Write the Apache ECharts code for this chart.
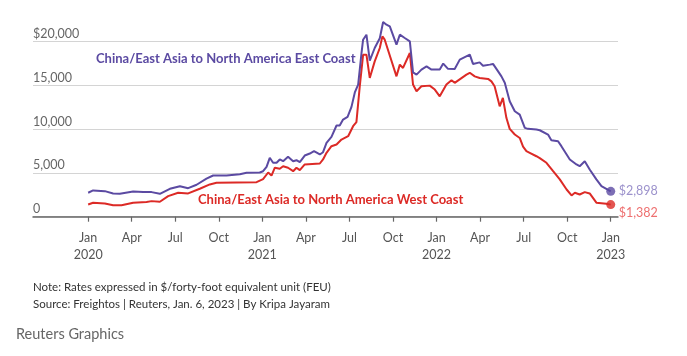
<!DOCTYPE html>
<html><head><meta charset="utf-8">
<script src="https://cdn.jsdelivr.net/npm/echarts@6/dist/echarts.min.js"></script>
<style>html,body{margin:0;padding:0;background:#fff}#c{width:687px;height:356px}</style>
</head><body><div id="c"></div>
<script>
// x positions are months since Jan 2020
const tickMonths = [0,3,6,9,12,15,18,21,24,27,30,33,36];
const tickLabels = ['Jan\n2020','Apr','Jul','Oct','Jan\n2021','Apr','Jul','Oct','Jan\n2022','Apr','Jul','Oct','Jan\n2023'];
const yTicks = [0,5000,10000,15000,20000];

const eastX = [0.00,0.34,1.15,1.72,2.18,3.10,3.79,4.37,4.94,5.63,6.32,6.89,7.47,8.15,8.61,9.53,10.45,10.91,11.82,12.05,12.29,12.51,12.74,12.98,13.20,13.43,13.77,14.12,14.35,14.58,14.92,15.27,15.56,15.96,16.18,16.42,16.76,17.11,17.33,17.56,17.87,18.14,18.37,18.60,18.83,18.94,19.17,19.40,19.74,20.09,20.32,20.55,20.78,21.24,21.47,21.81,22.16,22.38,22.62,22.96,23.31,23.65,24.22,24.46,24.79,25.25,25.60,26.29,26.51,26.97,27.20,27.67,27.89,28.24,28.47,28.70,29.04,29.39,29.73,30.08,30.30,30.88,31.11,31.68,31.91,32.37,32.60,33.18,33.64,33.86,34.21,34.55,35.01,35.36,36.00];
const eastValues = [2740,3000,2920,2660,2620,2890,2810,2810,2620,3190,3490,3260,3650,4340,4710,4710,4860,5020,5050,5200,5700,6730,6160,6160,6540,6340,6850,6340,6460,6230,6990,7220,7490,7110,7370,8440,9130,10420,10420,11100,11410,12550,14200,15100,18700,20230,20800,17850,19280,20400,22250,21940,21750,19660,20800,20420,20040,16500,16240,16810,17180,16810,16810,17500,16900,16890,17950,18520,17460,17640,17260,17380,17460,16610,16040,15300,13200,12050,11670,10150,10040,9960,9880,9390,8740,8630,8060,6540,5970,5770,6340,5400,4260,3490,2898];

const westX = [0.00,0.34,1.15,1.72,2.30,3.10,4.02,4.37,4.94,5.51,6.20,6.89,7.69,8.38,8.84,11.60,12.05,12.40,12.63,12.86,13.20,13.43,13.77,14.12,14.35,14.58,14.92,15.96,16.18,16.42,16.76,17.11,17.45,17.91,18.25,18.48,18.71,18.94,19.17,19.40,19.74,20.09,20.27,20.43,21.24,21.47,21.69,22.16,22.38,22.62,22.96,23.53,23.88,24.22,24.68,25.03,25.25,26.06,26.29,26.63,26.97,27.55,27.78,28.00,28.35,28.57,28.81,29.04,29.39,29.73,29.96,30.19,30.42,30.88,31.11,31.57,32.03,32.49,32.96,33.30,33.53,33.86,34.21,34.55,35.01,35.70,36.00];
const westValues = [1400,1600,1520,1320,1320,1600,1670,1780,1710,2350,2740,2660,3190,3690,3880,3950,4300,5050,4700,5600,5480,5770,5590,5200,5590,5320,5970,6080,6540,7300,8060,8250,8820,9200,10340,10800,14900,18500,18520,15860,17750,19280,20610,20230,16040,17380,17000,18710,15100,14330,14900,14980,14530,13760,15100,15600,15300,16240,16450,16040,15860,15750,15470,14900,12620,13580,11300,10040,9390,9000,8000,7490,7300,6910,6700,6160,5200,4260,3110,2430,2740,2540,2810,2660,1600,1480,1382];

const eastName = 'China/East Asia to North America East Coast';
const westName = 'China/East Asia to North America West Coast';
const noteText = 'Note: Rates expressed in $/forty-foot equivalent unit (FEU)';
const sourceText = 'Source: Freightos | Reuters, Jan. 6, 2023 | By Kripa Jayaram';
const creditText = 'Reuters Graphics';

const FONT = 'Lato, sans-serif';
const PURPLE = '#5b4aa2', RED = '#dc2a26';
const zip = (xs, ys) => xs.map((x, i) => [x, ys[i]]);
const fmt = v => v.toLocaleString('en-US');
const last = a => a[a.length - 1];

const chart = echarts.init(document.getElementById('c'), null, {renderer: 'canvas'});
chart.setOption({
  animation: false,
  backgroundColor: '#fff',
  grid: {left: 33, right: 69, top: 41.7, bottom: 139.3},
  xAxis: {
    type: 'value', min: -3.8, max: 36.5,
    axisLine: {show: true, lineStyle: {color: '#666', width: 1.5}},
    axisTick: {show: true, customValues: tickMonths, length: 5, lineStyle: {color: '#666', width: 1.2}},
    axisLabel: {customValues: tickMonths, formatter: v => tickLabels[tickMonths.indexOf(Math.round(v))],
      color: '#555', fontFamily: FONT, fontSize: 12.5, lineHeight: 17, margin: 13},
    splitLine: {show: false}
  },
  yAxis: {
    type: 'value', min: 0, max: 20000, interval: 5000,
    axisLine: {show: false}, axisTick: {show: false},
    axisLabel: {inside: true, margin: 0, align: 'left', verticalAlign: 'bottom', lineHeight: 15,
      color: '#666', fontFamily: FONT, fontSize: 12.5,
      formatter: v => v === 20000 ? '$' + fmt(v) : fmt(v)},
    splitLine: {lineStyle: {color: '#d4d4d4', width: 1.2}}
  },
  series: [
    {type: 'line', data: zip(westX, westValues), showSymbol: false, clip: false,
     lineStyle: {color: RED, width: 2}, itemStyle: {color: RED},
     endLabel: {show: true, formatter: p => '$' + fmt(p.value[1]), color: '#ee7070',
       fontFamily: FONT, fontSize: 12.5, distance: 8, offset: [0, 8]}},
    {type: 'line', data: zip(eastX, eastValues), showSymbol: false, clip: false,
     lineStyle: {color: PURPLE, width: 2}, itemStyle: {color: PURPLE},
     endLabel: {show: true, formatter: p => '$' + fmt(p.value[1]), color: '#9c92cc',
       fontFamily: FONT, fontSize: 12.5, distance: 8}},
    {type: 'scatter', data: [[last(westX), last(westValues)]], symbolSize: 9, itemStyle: {color: RED}, z: 5},
    {type: 'scatter', data: [[last(eastX), last(eastValues)]], symbolSize: 9, itemStyle: {color: PURPLE}, z: 5}
  ],
  graphic: [
    {type: 'text', left: 96, top: 52, style: {text: eastName, fill: PURPLE, font: 'bold 13px ' + FONT}},
    {type: 'text', left: 198, top: 193, style: {text: westName, fill: RED, font: 'bold 13px ' + FONT}},
    {type: 'text', left: 33, top: 281, style: {text: noteText, fill: '#333', font: '11.5px ' + FONT}},
    {type: 'text', left: 33, top: 298, style: {text: sourceText, fill: '#333', font: '11.5px ' + FONT}},
    {type: 'text', left: 16, top: 327, style: {text: creditText, fill: '#666', font: '14.5px ' + FONT}}
  ]
});
</script></body></html>
